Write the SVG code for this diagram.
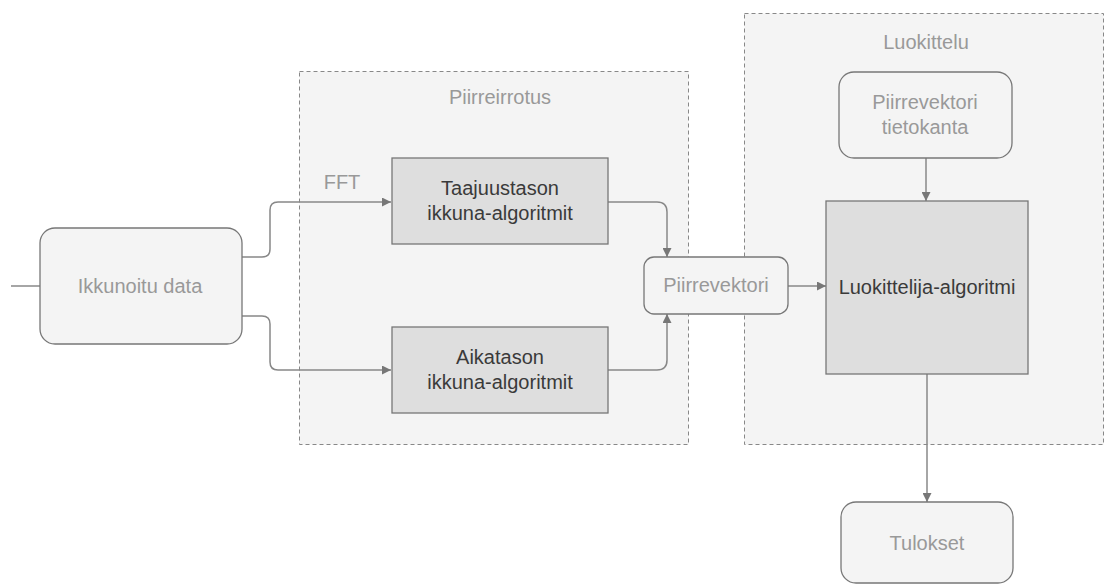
<svg xmlns="http://www.w3.org/2000/svg" width="1106" height="585" viewBox="0 0 1106 585">
<style>
.grp{fill:#f4f4f4;stroke:#888;stroke-width:1;stroke-dasharray:4 3}
.rnd{fill:#f4f4f4;stroke:#777;stroke-width:1.3}
.sq{fill:#dedede;stroke:#777;stroke-width:1.3}
.lt{font-family:"Liberation Sans",Arial,sans-serif;font-size:20px;fill:#999;text-anchor:middle;dominant-baseline:central}
.dk{font-family:"Liberation Sans",Arial,sans-serif;font-size:20px;fill:#3a3a3a;text-anchor:middle;dominant-baseline:central}
.ln{fill:none;stroke:#888;stroke-width:1.5}
</style>
<defs>
<marker id="ah" viewBox="0 0 10 10" refX="10" refY="5" markerWidth="9" markerHeight="9" markerUnits="userSpaceOnUse" orient="auto"><path d="M0,0 L10,5 L0,10 z" fill="#777"/></marker>
</defs>
<rect width="1106" height="585" fill="#fff"/>
<g id="piirreirrotus">
<rect class="grp" x="299.5" y="71.5" width="389" height="373"/>
<text class="lt" x="500" y="97">Piirreirrotus</text>
</g>
<g id="luokittelu">
<rect class="grp" x="744.5" y="13.5" width="359" height="431"/>
<text class="lt" x="926" y="42">Luokittelu</text>
</g>
<g id="connectors">
<path class="ln" d="M11,286 H40"/>
<path class="ln" d="M242,257 H262 Q270,257 270,249 V210 Q270,202 278,202 H391" marker-end="url(#ah)"/>
<path class="ln" d="M242,316 H262 Q270,316 270,324 V362 Q270,370 278,370 H391" marker-end="url(#ah)"/>
<path class="ln" d="M608,202 H657 Q667,202 667,212 V257" marker-end="url(#ah)"/>
<path class="ln" d="M608,370 H657 Q667,370 667,360 V314" marker-end="url(#ah)"/>
<path class="ln" d="M788,286 H826" marker-end="url(#ah)"/>
<path class="ln" d="M926,158 V201" marker-end="url(#ah)"/>
<path class="ln" d="M927,374 V502" marker-end="url(#ah)"/>
<text class="lt" x="342" y="182">FFT</text>
</g>
<g id="ikkunoitu">
<rect class="rnd" x="40" y="228" width="202" height="116" rx="15"/>
<text class="lt" x="140" y="286">Ikkunoitu data</text>
</g>
<g id="taajuus">
<rect class="sq" x="392" y="158" width="216" height="86"/>
<text class="dk" x="500" y="188">Taajuustason</text>
<text class="dk" x="500" y="213">ikkuna-algoritmit</text>
</g>
<g id="aika">
<rect class="sq" x="392" y="327" width="216" height="86"/>
<text class="dk" x="500" y="357">Aikatason</text>
<text class="dk" x="500" y="382">ikkuna-algoritmit</text>
</g>
<g id="piirrevektori">
<rect class="rnd" x="644" y="257" width="144" height="57" rx="10"/>
<text class="lt" x="716" y="285">Piirrevektori</text>
</g>
<g id="tietokanta">
<rect class="rnd" x="839" y="72" width="173" height="86" rx="15"/>
<text class="lt" x="925" y="102">Piirrevektori</text>
<text class="lt" x="925" y="127">tietokanta</text>
</g>
<g id="luokittelija">
<rect class="sq" x="826" y="201" width="202" height="173"/>
<text class="dk" x="927" y="287">Luokittelija-algoritmi</text>
</g>
<g id="tulokset">
<rect class="rnd" x="841" y="502" width="172" height="81" rx="15"/>
<text class="lt" x="927" y="543">Tulokset</text>
</g>
</svg>
